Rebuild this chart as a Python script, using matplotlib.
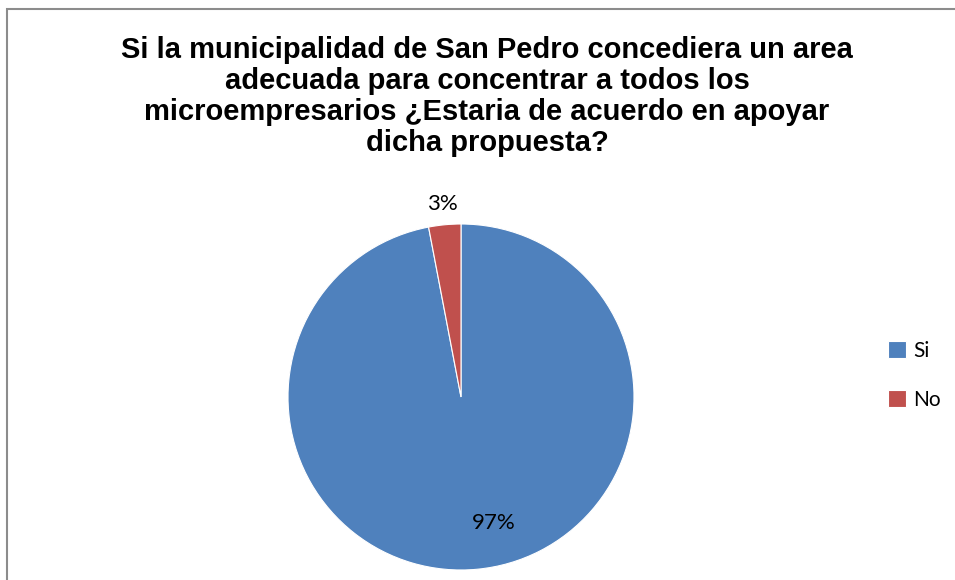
import matplotlib.pyplot as plt
import numpy as np
from matplotlib.patches import Rectangle

categories = ["Si", "No"]
values = [97, 3]
pct_labels = ["97%", "3%"]
colors = ["#4F81BD", "#C0504D"]

title = ("Si la municipalidad de San Pedro concediera un area\n"
         "adecuada para concentrar a todos los\n"
         "microempresarios \u00bfEstaria de acuerdo en apoyar\n"
         "dicha propuesta?")

fig = plt.figure(figsize=(9.55, 5.8), dpi=100)

# outer chart border (right and bottom edges fall outside the image)
fig.patches.append(Rectangle((7 / 955, -0.2), 1.2, 1.2 - 9 / 580, transform=fig.transFigure,
                             fill=False, edgecolor="#8c8c8c", linewidth=1.5))

fig.text(0.51, 0.938, title, ha="center", va="top", fontsize=21, fontweight="bold",
         family="Liberation Sans", linespacing=1.14)

r_px = 173
cx, cy = 461, 580 - 397
ax = fig.add_axes([(cx - r_px) / 955, (cy - r_px) / 580, 2 * r_px / 955, 2 * r_px / 580])
wedges, _ = ax.pie(values, colors=colors, startangle=90, counterclock=False,
                   wedgeprops=dict(edgecolor="white", linewidth=0.8))
ax.set_xlim(-1, 1)
ax.set_ylim(-1, 1)
ax.set_aspect("equal")

# data labels: 97% inside, 3% outside
label_r = [0.75, 1.12]
label_shift = [9, 0]
for w, lab, rr, sh in zip(wedges, pct_labels, label_r, label_shift):
    ang = np.deg2rad((w.theta1 + w.theta2) / 2 + sh)
    ax.text(rr * np.cos(ang), rr * np.sin(ang), lab, ha="center", va="center",
            fontsize=16, family="Lato")

leg = fig.legend(wedges, categories, loc="center left", bbox_to_anchor=(0.91, 0.353),
                 frameon=False, prop={"family": "Lato", "size": 15},
                 handlelength=0.85, handleheight=0.85, handletextpad=0.35, labelspacing=1.4)

fig.savefig("out.png", dpi=100)
